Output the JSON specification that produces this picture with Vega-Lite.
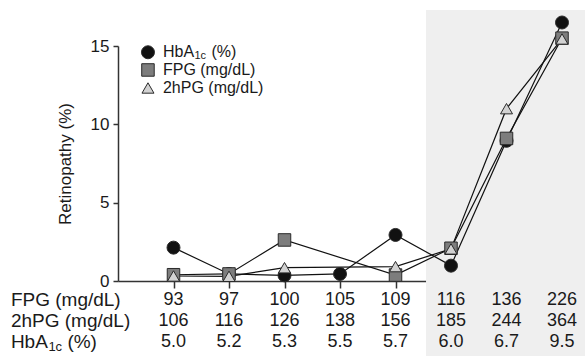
{
  "$schema": "https://vega.github.io/schema/vega-lite/v6.json",
  "width": 444,
  "height": 235,
  "autosize": {"type": "none"},
  "padding": {"left": 118, "top": 46, "right": 23, "bottom": 75},
  "background": "white",
  "config": {
    "view": {"stroke": null},
    "font": "Liberation Sans",
    "axis": {"zindex": 1},
    "text": {"font": "Liberation Sans", "color": "#1a1a1a"}
  },
  "datasets": {
    "retinopathy": [
      {"decile": 1, "series": "HbA1c", "retinopathy": 2.13},
      {"decile": 2, "series": "HbA1c", "retinopathy": 0.45},
      {"decile": 3, "series": "HbA1c", "retinopathy": 0.36},
      {"decile": 4, "series": "HbA1c", "retinopathy": 0.45},
      {"decile": 5, "series": "HbA1c", "retinopathy": 2.94},
      {"decile": 6, "series": "HbA1c", "retinopathy": 0.98},
      {"decile": 7, "series": "HbA1c", "retinopathy": 8.95},
      {"decile": 8, "series": "HbA1c", "retinopathy": 16.5},
      {"decile": 1, "series": "FPG", "retinopathy": 0.4},
      {"decile": 2, "series": "FPG", "retinopathy": 0.45},
      {"decile": 3, "series": "FPG", "retinopathy": 2.62},
      {"decile": 5, "series": "FPG", "retinopathy": 0.38},
      {"decile": 6, "series": "FPG", "retinopathy": 2.09},
      {"decile": 7, "series": "FPG", "retinopathy": 9.1},
      {"decile": 8, "series": "FPG", "retinopathy": 15.5},
      {"decile": 1, "series": "2hPG", "retinopathy": 0.32},
      {"decile": 2, "series": "2hPG", "retinopathy": 0.3},
      {"decile": 3, "series": "2hPG", "retinopathy": 0.85},
      {"decile": 5, "series": "2hPG", "retinopathy": 0.92},
      {"decile": 6, "series": "2hPG", "retinopathy": 2.05},
      {"decile": 7, "series": "2hPG", "retinopathy": 11.0},
      {"decile": 8, "series": "2hPG", "retinopathy": 15.45}
    ],
    "cutoffs": [
      {"decile": 1, "FPG": "93", "hPG": "106", "HbA1c": "5.0"},
      {"decile": 2, "FPG": "97", "hPG": "116", "HbA1c": "5.2"},
      {"decile": 3, "FPG": "100", "hPG": "126", "HbA1c": "5.3"},
      {"decile": 4, "FPG": "105", "hPG": "138", "HbA1c": "5.5"},
      {"decile": 5, "FPG": "109", "hPG": "156", "HbA1c": "5.7"},
      {"decile": 6, "FPG": "116", "hPG": "185", "HbA1c": "6.0"},
      {"decile": 7, "FPG": "136", "hPG": "244", "HbA1c": "6.7"},
      {"decile": 8, "FPG": "226", "hPG": "364", "HbA1c": "9.5"}
    ]
  },
  "layer": [
    {
      "data": {"values": [{"zone": "high"}]},
      "mark": {"type": "rect", "color": "#efefef"},
      "encoding": {
        "x": {"datum": 5.55, "type": "quantitative"},
        "x2": {"datum": 8.45},
        "y": {"datum": 17.3, "type": "quantitative"},
        "y2": {"datum": -4.8}
      }
    },
    {
      "data": {"name": "retinopathy"},
      "mark": {"type": "line", "color": "#111111", "strokeWidth": 1.2},
      "encoding": {
        "x": {
          "field": "decile", "type": "quantitative",
          "scale": {"domain": [0, 8], "nice": false, "zero": false},
          "axis": {
            "values": [1, 2, 3, 4, 5, 6, 7, 8], "labels": false, "title": null,
            "grid": false, "tickSize": 7, "tickWidth": 1.5, "domainWidth": 1.5,
            "domainColor": "#333333", "tickColor": "#333333"
          }
        },
        "y": {
          "field": "retinopathy", "type": "quantitative",
          "scale": {"domain": [0, 15], "nice": false},
          "axis": {
            "values": [0, 5, 10, 15], "title": "Retinopathy (%)", "grid": false,
            "tickSize": 5, "tickWidth": 1.5, "domainWidth": 1.5,
            "domainColor": "#333333", "tickColor": "#333333",
            "labelFontSize": 17, "labelColor": "#1a1a1a", "labelPadding": 4,
            "titleFontSize": 17, "titleFontWeight": "normal", "titleColor": "#1a1a1a",
            "titlePadding": 16
          }
        },
        "detail": {"field": "series"}
      }
    },
    {
      "data": {"name": "retinopathy"},
      "mark": {"type": "point", "filled": true, "opacity": 1, "stroke": "#2a2a2a", "strokeWidth": 1},
      "encoding": {
        "x": {"field": "decile", "type": "quantitative"},
        "y": {"field": "retinopathy", "type": "quantitative"},
        "shape": {"field": "series", "type": "nominal", "scale": {"domain": ["HbA1c", "FPG", "2hPG"], "range": ["circle", "square", "triangle-up"]}, "legend": null},
        "fill": {"field": "series", "type": "nominal", "scale": {"domain": ["HbA1c", "FPG", "2hPG"], "range": ["#111111", "#7d7d7d", "#d2d2d2"]}, "legend": null},
        "size": {"field": "series", "type": "nominal", "scale": {"domain": ["HbA1c", "FPG", "2hPG"], "range": [169, 144, 169]}, "legend": null}
      }
    },
    {
      "data": {"values": [{"series": "HbA1c"}]},
      "mark": {"type": "point", "filled": true, "opacity": 1, "stroke": "#2a2a2a", "strokeWidth": 1},
      "encoding": {
        "x": {"datum": 0.54, "type": "quantitative"},
        "y": {"datum": 14.6, "type": "quantitative"},
        "shape": {"field": "series", "type": "nominal"},
        "fill": {"field": "series", "type": "nominal"},
        "size": {"field": "series", "type": "nominal"}
      }
    },
    {
      "data": {"values": [{"series": "FPG"}]},
      "mark": {"type": "point", "filled": true, "opacity": 1, "stroke": "#2a2a2a", "strokeWidth": 1},
      "encoding": {
        "x": {"datum": 0.54, "type": "quantitative"},
        "y": {"datum": 13.47, "type": "quantitative"},
        "shape": {"field": "series", "type": "nominal"},
        "fill": {"field": "series", "type": "nominal"},
        "size": {"field": "series", "type": "nominal"}
      }
    },
    {
      "data": {"values": [{"series": "2hPG"}]},
      "mark": {"type": "point", "filled": true, "opacity": 1, "stroke": "#2a2a2a", "strokeWidth": 1},
      "encoding": {
        "x": {"datum": 0.54, "type": "quantitative"},
        "y": {"datum": 12.32, "type": "quantitative"},
        "shape": {"field": "series", "type": "nominal"},
        "fill": {"field": "series", "type": "nominal"},
        "size": {"field": "series", "type": "nominal"}
      }
    },
    {
      "data": {"values": [{"label": "HbA"}]},
      "mark": {"type": "text", "fontSize": 16, "align": "left", "baseline": "middle"},
      "encoding": {
        "x": {"datum": 0.81, "type": "quantitative"},
        "y": {"datum": 14.6, "type": "quantitative"},
        "text": {"field": "label"}
      }
    },
    {
      "data": {"values": [{"label": "1c"}]},
      "mark": {"type": "text", "fontSize": 11, "align": "left", "baseline": "middle", "dx": 31.5, "dy": 4},
      "encoding": {
        "x": {"datum": 0.81, "type": "quantitative"},
        "y": {"datum": 14.6, "type": "quantitative"},
        "text": {"field": "label"}
      }
    },
    {
      "data": {"values": [{"label": "(%)"}]},
      "mark": {"type": "text", "fontSize": 16, "align": "left", "baseline": "middle", "dx": 48.5},
      "encoding": {
        "x": {"datum": 0.81, "type": "quantitative"},
        "y": {"datum": 14.6, "type": "quantitative"},
        "text": {"field": "label"}
      }
    },
    {
      "data": {"values": [{"label": "FPG (mg/dL)"}]},
      "mark": {"type": "text", "fontSize": 16, "align": "left", "baseline": "middle"},
      "encoding": {
        "x": {"datum": 0.81, "type": "quantitative"},
        "y": {"datum": 13.47, "type": "quantitative"},
        "text": {"field": "label"}
      }
    },
    {
      "data": {"values": [{"label": "2hPG (mg/dL)"}]},
      "mark": {"type": "text", "fontSize": 16, "align": "left", "baseline": "middle"},
      "encoding": {
        "x": {"datum": 0.81, "type": "quantitative"},
        "y": {"datum": 12.32, "type": "quantitative"},
        "text": {"field": "label"}
      }
    },
    {
      "data": {"name": "cutoffs"},
      "mark": {"type": "text", "fontSize": 18, "align": "center", "baseline": "middle"},
      "encoding": {
        "x": {"field": "decile", "type": "quantitative"},
        "y": {"datum": -1.22, "type": "quantitative"},
        "text": {"field": "FPG"}
      }
    },
    {
      "data": {"name": "cutoffs"},
      "mark": {"type": "text", "fontSize": 18, "align": "center", "baseline": "middle"},
      "encoding": {
        "x": {"field": "decile", "type": "quantitative"},
        "y": {"datum": -2.57, "type": "quantitative"},
        "text": {"field": "hPG"}
      }
    },
    {
      "data": {"name": "cutoffs"},
      "mark": {"type": "text", "fontSize": 18, "align": "center", "baseline": "middle"},
      "encoding": {
        "x": {"field": "decile", "type": "quantitative"},
        "y": {"datum": -3.92, "type": "quantitative"},
        "text": {"field": "HbA1c"}
      }
    },
    {
      "data": {"values": [{"label": "FPG (mg/dL)"}]},
      "mark": {"type": "text", "fontSize": 19, "align": "left", "baseline": "middle"},
      "encoding": {
        "x": {"datum": -1.93, "type": "quantitative"},
        "y": {"datum": -1.22, "type": "quantitative"},
        "text": {"field": "label"}
      }
    },
    {
      "data": {"values": [{"label": "2hPG (mg/dL)"}]},
      "mark": {"type": "text", "fontSize": 19, "align": "left", "baseline": "middle"},
      "encoding": {
        "x": {"datum": -1.93, "type": "quantitative"},
        "y": {"datum": -2.57, "type": "quantitative"},
        "text": {"field": "label"}
      }
    },
    {
      "data": {"values": [{"label": "HbA"}]},
      "mark": {"type": "text", "fontSize": 19, "align": "left", "baseline": "middle"},
      "encoding": {
        "x": {"datum": -1.93, "type": "quantitative"},
        "y": {"datum": -3.92, "type": "quantitative"},
        "text": {"field": "label"}
      }
    },
    {
      "data": {"values": [{"label": "1c"}]},
      "mark": {"type": "text", "fontSize": 13, "align": "left", "baseline": "middle", "dx": 37.5, "dy": 5},
      "encoding": {
        "x": {"datum": -1.93, "type": "quantitative"},
        "y": {"datum": -3.92, "type": "quantitative"},
        "text": {"field": "label"}
      }
    },
    {
      "data": {"values": [{"label": "(%)"}]},
      "mark": {"type": "text", "fontSize": 19, "align": "left", "baseline": "middle", "dx": 56.5},
      "encoding": {
        "x": {"datum": -1.93, "type": "quantitative"},
        "y": {"datum": -3.92, "type": "quantitative"},
        "text": {"field": "label"}
      }
    }
  ]
}
